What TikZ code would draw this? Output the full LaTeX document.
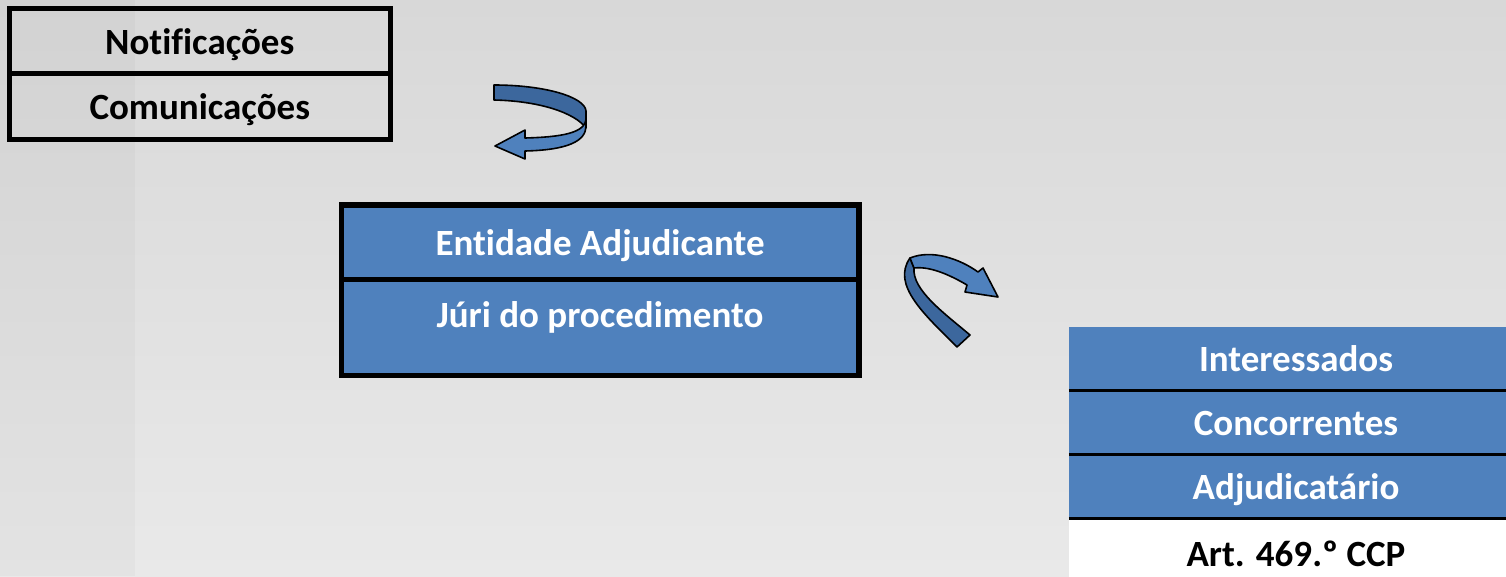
\documentclass[tikz,border=0pt]{standalone}
\usepackage{fontspec}
\setmainfont[Ligatures=NoCommon]{Carlito}
\usetikzlibrary{positioning}

\definecolor{cellblue}{RGB}{79,129,189}
\definecolor{banddark}{RGB}{60,103,157}
\definecolor{bgtop}{RGB}{216,216,216}
\definecolor{bgbottom}{RGB}{233,233,233}

\tikzset{
  cell/.style={rectangle, inner sep=0pt, text height=31pt, text depth=5pt,
    font=\fontsize{37}{44}\selectfont\bfseries},
  greycell/.style={cell, draw=black, line width=2.5pt, minimum width=378.5pt, minimum height=63pt},
  bluecell/.style={cell, draw=black, fill=cellblue, text=white, line width=2.5pt, minimum width=515pt},
  sidecell/.style={cell, fill=cellblue, text=white, minimum width=454pt, minimum height=63.5pt},
  frame/.style={draw=black, line width=5.5pt},
  rule/.style={draw=black, line width=2.7pt},
  band/.style={draw=black, line width=1.6pt, line join=round}
}

\begin{document}
\begin{tikzpicture}[x=1pt,y=-1pt]
\useasboundingbox (0,0) rectangle (1506,576);
\clip (0,0) rectangle (1506,576);
% background
\shade[top color=bgtop, bottom color=bgbottom] (0,0) rectangle (1506,576);
\fill[black, opacity=0.025] (0,0) rectangle (135,576);

% top left box
\node[greycell] (notif) at (199.75,41) {Notificações};
\node[greycell, below=0pt of notif] (comun) {Comunicações};
\draw[frame] (notif.north west) rectangle (comun.south east);

% middle box
\node[bluecell, minimum height=72pt] (entidade) at (600,242) {Entidade Adjudicante};
\node[bluecell, minimum height=93.5pt, text depth=31.5pt, below=0pt of entidade] (juri) {Júri do procedimento};
\draw[frame] (entidade.north west) rectangle (juri.south east);

% right box
\node[sidecell] (inter) at (1296,358.5) {Interessados};
\node[sidecell, below=0pt of inter] (conc) {Concorrentes};
\node[sidecell, below=0pt of conc] (adjud) {Adjudicatário};
\node[sidecell, fill=white, text=black, minimum height=70pt, below=0pt of adjud] (art) {Art. 469.º CCP};
\draw[rule] (inter.south west) -- (inter.south east);
\draw[rule] (conc.south west) -- (conc.south east);
\draw[rule] (adjud.south west) -- (adjud.south east);

% curved arrow, top
\draw[band, fill=banddark] (494,85) .. controls (545,85) and (585,97) .. (586,111)
  -- (586,128) .. controls (575,113) and (540,101) .. (494,100) -- cycle;
\draw[band, fill=cellblue] (586,118) .. controls (586,133) and (562,137) .. (525,138)
  -- (525,130) -- (495,146) -- (525,159) -- (525,151)
  .. controls (568,150) and (586,141) .. (586,126) -- cycle;

% curved arrow, middle
\draw[band, fill=banddark] (957,347) .. controls (925,315) and (891,285) .. (910,258)
  -- (914,268) .. controls (912,290) and (944,313) .. (970,335) -- cycle;
\draw[band, fill=cellblue] (910,258) .. controls (932,249) and (960,259) .. (978,272)
  -- (983,268) -- (998,297) -- (965,292) -- (967,285)
  .. controls (950,275) and (930,266) .. (914,268) -- cycle;
\end{tikzpicture}
\end{document}
